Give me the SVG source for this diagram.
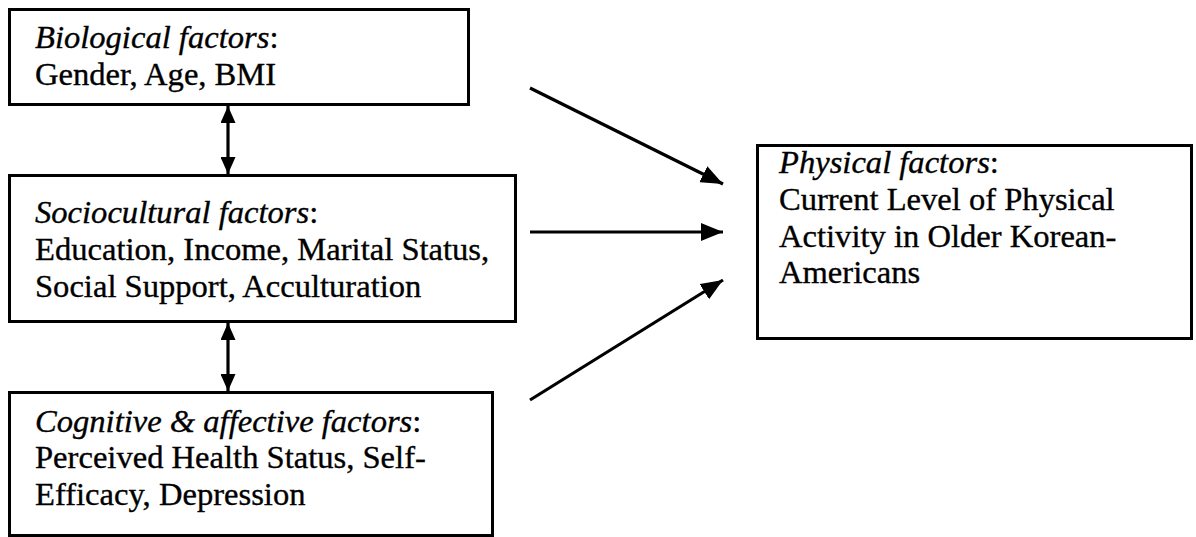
<svg xmlns="http://www.w3.org/2000/svg" width="1196" height="537" viewBox="0 0 1196 537">
<defs>
<style>
.box{fill:#fff;stroke:#000;stroke-width:3}
.t{font-family:"Liberation Serif","Times New Roman",serif;font-size:32.6px;fill:#000;stroke:#000;stroke-width:0.35}
.i{font-style:italic}
.c{stroke:#000;stroke-width:3.2;fill:none}
</style>
<marker id="ah" markerUnits="userSpaceOnUse" markerWidth="22" markerHeight="18" viewBox="0 0 22 18" refX="22" refY="9" orient="auto-start-reverse">
<path d="M0,0 L22,9 L0,18 Z" fill="#000"/>
</marker>
<marker id="av" markerUnits="userSpaceOnUse" markerWidth="17" markerHeight="15" viewBox="0 0 17 15" refX="17" refY="7.5" orient="auto-start-reverse">
<path d="M0,0 L17,7.5 L0,15 Z" fill="#000"/>
</marker>
</defs>
<rect width="1196" height="537" fill="#fff"/>
<g id="biological">
<rect class="box" x="9.5" y="9.5" width="459" height="95"/>
<text class="t" x="35" y="48"><tspan class="i">Biological factors</tspan>:</text>
<text class="t" x="35" y="85">Gender, Age, BMI</text>
</g>
<g id="sociocultural">
<rect class="box" x="9.5" y="175.5" width="506" height="146"/>
<text class="t" x="35" y="223"><tspan class="i">Sociocultural factors</tspan>:</text>
<text class="t" x="35" y="260">Education, Income, Marital Status,</text>
<text class="t" x="35" y="297">Social Support, Acculturation</text>
</g>
<g id="cognitive">
<rect class="box" x="9.5" y="392.5" width="483" height="143"/>
<text class="t" x="35" y="432"><tspan class="i">Cognitive &amp; affective factors</tspan>:</text>
<text class="t" x="35" y="468">Perceived Health Status, Self-</text>
<text class="t" x="35" y="505">Efficacy, Depression</text>
</g>
<g id="physical">
<rect class="box" x="757.5" y="145.5" width="434" height="193"/>
<text class="t" x="779" y="173"><tspan class="i">Physical factors</tspan>:</text>
<text class="t" x="779" y="210">Current Level of Physical</text>
<text class="t" x="779" y="247">Activity in Older Korean-</text>
<text class="t" x="779" y="283">Americans</text>
</g>
<g id="connectors">
<line class="c" x1="228" y1="106" x2="228" y2="174" marker-start="url(#av)" marker-end="url(#av)"/>
<line class="c" x1="228" y1="323" x2="228" y2="391" marker-start="url(#av)" marker-end="url(#av)"/>
<line class="c" x1="530" y1="88" x2="723" y2="184" marker-end="url(#ah)"/>
<line class="c" x1="530" y1="232" x2="723" y2="232" marker-end="url(#ah)"/>
<line class="c" x1="530" y1="400" x2="723" y2="280" marker-end="url(#ah)"/>
</g>
</svg>
